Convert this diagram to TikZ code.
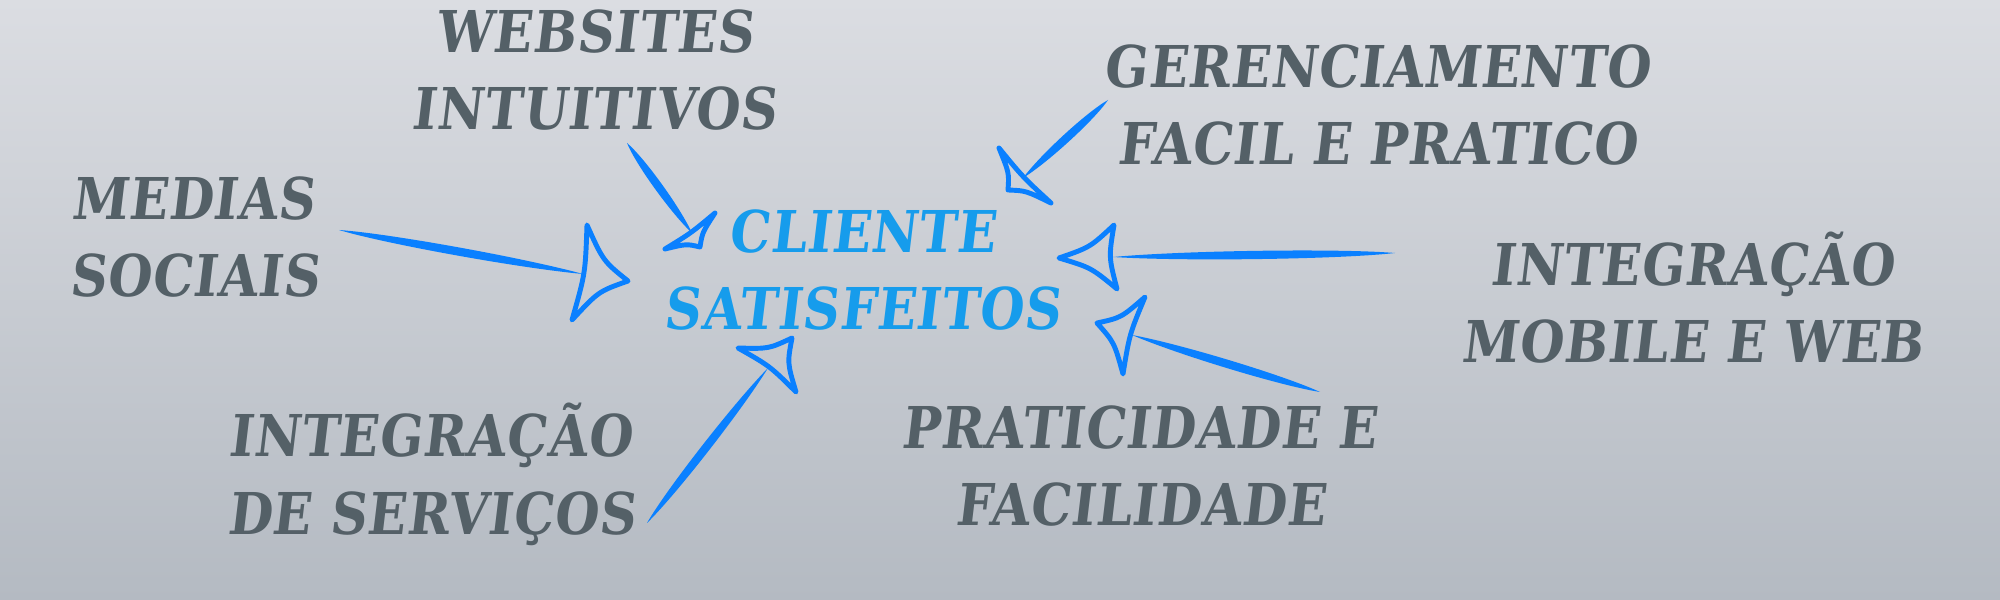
\documentclass[tikz,border=0pt]{standalone}
\usepackage{fontspec}
\usetikzlibrary{calc}
\newfontfamily\varsity{DejaVu Serif}[FakeSlant=0.12,FakeStretch=0.88,LetterSpace=1.5]
\definecolor{bgtop}{RGB}{219,221,226}
\definecolor{bgbot}{RGB}{180,186,194}
\definecolor{labelgray}{RGB}{84,96,103}
\definecolor{hubblue}{RGB}{22,156,236}
\definecolor{arrowblue}{RGB}{10,128,255}

% shaft from #1 to #2, open head with corners #3 #4 #5
\newcommand\sketcharrow[5]{%
  \fill[arrowblue] (#1) .. controls ($(#1)!0.2!(#2)!0.55mm!90:(#2)$)
        and ($(#1)!0.75!(#2)!0.55mm!90:(#2)$) .. (#2)
     .. controls ($(#1)!0.75!(#2)!0.55mm!-90:(#2)$)
        and ($(#1)!0.2!(#2)!0.55mm!-90:(#2)$) .. (#1) -- cycle;
  \draw[tipline] (#3) .. controls ($(#3)!0.5!(#4)!0.12!(#5)$) .. (#4)
     .. controls ($(#4)!0.5!(#5)!0.12!(#3)$) .. (#5)
     .. controls ($(#5)!0.5!(#3)!0.12!(#4)$) .. (#3) -- cycle;}

\begin{document}
\begin{tikzpicture}[
  x=0.1mm, y=-0.1mm,
  label/.style={font=\varsity\bfseries\fontsize{16.4pt}{20pt}\selectfont,
                text=labelgray, inner sep=0pt, anchor=base},
  hub/.style={label, text=hubblue},
  tipline/.style={draw=arrowblue, line width=1.4pt, line join=round}
]
  \useasboundingbox (0,0) rectangle (2000,600);
  \shade[top color=bgtop, bottom color=bgbot] (0,0) rectangle (2000,600);

  % centre
  \node[hub] (hubA) at (862,253) {CLIENTE};
  \node[hub] (hubB) at (862,330) {SATISFEITOS};

  % labels
  \node[label] (webA)    at (594,53)   {WEBSITES};
  \node[label] (webB)    at (594,130)  {INTUITIVOS};
  \node[label] (socialA) at (193,220)  {MEDIAS};
  \node[label] (socialB) at (194,297)  {SOCIAIS};
  \node[label] (servA)   at (430,457)  {INTEGRAÇÃO};
  \node[label] (servB)   at (431,534)  {DE SERVIÇOS};
  \node[label] (manageA) at (1377,88)  {GERENCIAMENTO};
  \node[label] (manageB) at (1377,165) {FACIL E PRATICO};
  \node[label] (mobileA) at (1692,286) {INTEGRAÇÃO};
  \node[label] (mobileB) at (1692,363) {MOBILE E WEB};
  \node[label] (easeA)   at (1139,449) {PRATICIDADE E};
  \node[label] (easeB)   at (1140,526) {FACILIDADE};

  % arrow points
  \coordinate (socialS) at (339,230);  \coordinate (socialE) at (583,274);
  \coordinate (socialT1) at (587,225); \coordinate (socialT2) at (628,281);
  \coordinate (socialT3) at (572,320);
  \coordinate (webS) at (627,143);     \coordinate (webE) at (692,233);
  \coordinate (webT1) at (665,249);    \coordinate (webT2) at (715,213);
  \coordinate (webT3) at (700,247);
  \coordinate (servS) at (647,523);    \coordinate (servE) at (768,368);
  \coordinate (servT1) at (738,348);   \coordinate (servT2) at (792,338);
  \coordinate (servT3) at (796,392);
  \coordinate (manageS) at (1108,100); \coordinate (manageE) at (1023,178);
  \coordinate (manageT1) at (999,148); \coordinate (manageT2) at (1008,190);
  \coordinate (manageT3) at (1051,203);
  \coordinate (mobileS) at (1395,253); \coordinate (mobileE) at (1113,257);
  \coordinate (mobileT1) at (1059,258);\coordinate (mobileT2) at (1114,225);
  \coordinate (mobileT3) at (1117,289);
  \coordinate (easeS) at (1320,392);   \coordinate (easeE) at (1132,335);
  \coordinate (easeT1) at (1097,323);  \coordinate (easeT2) at (1145,297);
  \coordinate (easeT3) at (1123,374);

  \sketcharrow{socialS}{socialE}{socialT1}{socialT2}{socialT3}
  \sketcharrow{webS}{webE}{webT1}{webT2}{webT3}
  \sketcharrow{servS}{servE}{servT1}{servT2}{servT3}
  \sketcharrow{manageS}{manageE}{manageT1}{manageT2}{manageT3}
  \sketcharrow{mobileS}{mobileE}{mobileT1}{mobileT2}{mobileT3}
  \sketcharrow{easeS}{easeE}{easeT1}{easeT2}{easeT3}
\end{tikzpicture}
\end{document}
